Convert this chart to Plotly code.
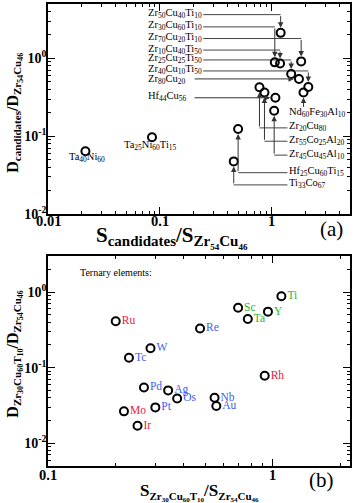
import re
import numpy as np
import plotly.graph_objects as go

# ---------------- Panel (a) data ----------------
a_alloys = ["Ta40Ni60", "Ta25Ni60Ti15", "Ti33Co67", "Hf25Cu60Ti15", "Zr20Cu80",
            "Zr55Co25Al20", "Hf44Cu56", "Zr45Cu45Al10", "Zr30Cu60Ti10", "Zr10Cu40Ti50",
            "Zr50Cu40Ti10", "Zr70Cu20Ti10", "Zr25Cu25Ti50", "Zr80Cu20", "Zr40Cu10Ti50",
            "Nd60Fe30Al10"]
a_s = [0.0216, 0.085, 0.457, 0.50, 0.776, 0.86, 1.077, 1.05, 1.064, 1.186,
       1.20, 1.83, 1.49, 1.75, 2.12, 1.92]
a_d = [0.064, 0.097, 0.0475, 0.124, 0.426, 0.365, 0.312, 0.213, 0.89, 0.86,
       2.13, 0.915, 0.63, 0.545, 0.43, 0.365]

# ---------------- Panel (b) data ----------------
b_elems = ["Ti", "Sc", "Y", "Ta", "Re", "Ru", "W", "Tc", "Rh", "Pd", "Ag", "Os",
           "Nb", "Au", "Pt", "Mo", "Ir"]
b_s = [1.09, 0.70, 0.95, 0.773, 0.474, 0.20, 0.2855, 0.229, 0.919, 0.267, 0.342,
       0.375, 0.55, 0.56, 0.30, 0.2176, 0.25]
b_d = [0.88, 0.62, 0.55, 0.44, 0.33, 0.41, 0.18, 0.135, 0.078, 0.0546, 0.050,
       0.039, 0.040, 0.031, 0.0298, 0.0264, 0.017]
b_group = ["green", "green", "green", "green", "blue", "red", "blue", "blue", "red",
           "blue", "blue", "blue", "blue", "blue", "blue", "red", "red"]

x_ticks_a = [0.01, 0.1, 1]
x_ticktext_a = ["0.01", "0.1", "1"]
x_ticks_b = [0.1, 1]
x_ticktext_b = ["0.1", "1"]
y_ticks = [0.01, 0.1, 1]
y_ticktext = ["10<sup>-2</sup>", "10<sup>-1</sup>", "10<sup>0</sup>"]

group_colors = {"green": "#2db32d", "blue": "#4060f0", "red": "#e8203c"}
FONT = "Liberation Serif"


def span(txt, px):
    return "<span style='font-size:%spx'>%s</span>" % (px, txt)


def chem(name, sub_px):
    parts = re.findall(r"([A-Za-z]+)(\d+)", name)
    return "".join(el + "<sub>" + span(n, sub_px) + "</sub>" for el, n in parts)


# label layout for panel (a): (kind, label_x, level_y, line_start_x)
LEFT_X = 0.076
a_label_layout = {
    "Zr50Cu40Ti10": ("down", LEFT_X, 3.65, 0.244),
    "Zr30Cu60Ti10": ("down", LEFT_X, 2.54, 0.244),
    "Zr70Cu20Ti10": ("down", LEFT_X, 1.80, 0.244),
    "Zr10Cu40Ti50": ("down", LEFT_X, 1.28, 0.244),
    "Zr25Cu25Ti50": ("down", LEFT_X, 0.955, 0.244),
    "Zr40Cu10Ti50": ("down", LEFT_X, 0.69, 0.244),
    "Zr80Cu20": ("horiz", LEFT_X, 0.52, 0.198),
    "Hf44Cu56": ("horiz", LEFT_X, None, 0.198),
    "Nd60Fe30Al10": ("below", 1.41, 0.198, None),
    "Zr20Cu80": ("up", 1.41, 0.128, 1.38),
    "Zr55Co25Al20": ("up", 1.41, 0.0863, 1.38),
    "Zr45Cu45Al10": ("up", 1.41, 0.0572, 1.38),
    "Hf25Cu60Ti15": ("up", 1.41, 0.034, 1.38),
    "Ti33Co67": ("up", 1.41, 0.0237, 1.38),
    "Ta40Ni60": ("plain", 0.0222, 0.0513, None),
    "Ta25Ni60Ti15": ("plain", 0.083, 0.073, None),
}

fig = go.Figure()

lx, ly = [], []
annotations = []
lab_font = dict(family=FONT, size=10.5, color="black")
arrow_common = dict(text="", showarrow=True, arrowhead=2, arrowsize=1.1,
                    arrowwidth=1, arrowcolor="#333", standoff=5,
                    xref="x", yref="y", axref="x", ayref="y")
lab_common = dict(showarrow=False, yanchor="middle", xref="x", yref="y",
                  font=lab_font, borderpad=0, yshift=1)
for name, s, d in zip(a_alloys, a_s, a_d):
    kind, tx, ty, x0 = a_label_layout[name]
    label = chem(name, 7.5)
    if kind in ("down", "up"):
        lx += [x0, s, None]
        ly += [ty, ty, None]
        annotations.append(dict(x=np.log10(s), y=np.log10(d), ax=np.log10(s),
                                ay=np.log10(ty), **arrow_common))
        annotations.append(dict(x=np.log10(tx), y=np.log10(ty), text=label,
                                xanchor="left", **lab_common))
    elif kind == "horiz":
        ly_lab = ty if ty is not None else d
        annotations.append(dict(x=np.log10(s), y=np.log10(d), ax=np.log10(x0),
                                ay=np.log10(d), **arrow_common))
        annotations.append(dict(x=np.log10(tx), y=np.log10(ly_lab), text=label,
                                xanchor="left", **lab_common))
    elif kind == "below":
        annotations.append(dict(x=np.log10(s), y=np.log10(d), ax=np.log10(s),
                                ay=np.log10(ty * 1.15), **arrow_common))
        annotations.append(dict(x=np.log10(tx), y=np.log10(ty), text=label,
                                xanchor="left", **lab_common))
    else:
        annotations.append(dict(x=np.log10(tx), y=np.log10(ty), text=label,
                                xanchor="center", **lab_common))

fig.add_trace(go.Scatter(x=lx, y=ly, mode="lines", xaxis="x", yaxis="y",
                         line=dict(color="#444", width=1), hoverinfo="skip",
                         showlegend=False))

fig.add_trace(go.Scatter(x=a_s, y=a_d, mode="markers", xaxis="x", yaxis="y",
                         marker=dict(symbol="circle-open", size=8, color="black",
                                     line=dict(width=2, color="black")),
                         showlegend=False))

# panel (b)
fig.add_trace(go.Scatter(x=b_s, y=b_d, mode="markers+text", xaxis="x2", yaxis="y2",
                         text=b_elems, textposition="middle right",
                         textfont=dict(family=FONT, size=11.5,
                                       color=[group_colors[g] for g in b_group]),
                         marker=dict(symbol="circle-open", size=8, color="black",
                                     line=dict(width=2, color="black")),
                         showlegend=False))


def minor_vals(lo, hi):
    return [m * 10.0 ** e for e in range(lo, hi) for m in range(2, 10)]


def axis(rng, tv, tt, domain, anchor, mvals, fsize, show_labels):
    return dict(type="log", range=rng, domain=domain, anchor=anchor,
                showline=True, linecolor="black", linewidth=1.5, mirror="allticks",
                ticks="inside", ticklen=7, tickwidth=1.2, tickcolor="black",
                tickmode="array", tickvals=tv, ticktext=tt,
                showticklabels=show_labels,
                showgrid=False, zeroline=False, ticklabelstandoff=-3,
                tickfont=dict(family=FONT, size=fsize, color="black", weight="bold"),
                minor=dict(ticks="inside", ticklen=3.5, tickwidth=1, tickcolor="black",
                           tickmode="array", tickvals=mvals, showgrid=False))


fig.update_layout(
    width=354, height=503,
    margin=dict(l=48, r=4, t=2, b=37),
    plot_bgcolor="white", paper_bgcolor="white",
    xaxis=axis([-2, np.log10(5)], x_ticks_a, x_ticktext_a, [0, 1], "y",
               minor_vals(-2, 1), 15, False),
    yaxis=axis([-2, np.log10(5)], y_ticks, y_ticktext, [0.5453, 1], "x",
               minor_vals(-2, 1), 14, True),
    xaxis2=axis([-1, np.log10(2.2)], x_ticks_b, x_ticktext_b, [0, 1], "y2",
                minor_vals(-1, 1), 15, False),
    yaxis2=axis([np.log10(0.005), np.log10(3)], y_ticks, y_ticktext, [0, 0.4547], "x2",
                minor_vals(-3, 1), 14, True),
)

# x tick labels drawn as annotations (placed right under the axis, as in the reference)
tick_font = dict(family=FONT, size=14.5, color="black", weight="bold")
for v, t in zip(x_ticks_a, x_ticktext_a):
    annotations.append(dict(x=np.log10(v), y=0.530, xref="x", yref="paper", text=t,
                            showarrow=False, xanchor="center", yanchor="middle",
                            font=tick_font))
for v, t in zip(x_ticks_b, x_ticktext_b):
    annotations.append(dict(x=np.log10(v), y=-0.0194, xref="x2", yref="paper", text=t,
                            showarrow=False, xanchor="center", yanchor="middle",
                            font=tick_font))


def ztitle(letter, sub_px, subsub_px):
    return (letter + "<sub>" + span("Zr<sub>" + span("54", subsub_px) + "</sub>Cu<sub>"
                                   + span("46", subsub_px) + "</sub>", sub_px) + "</sub>")


def ttitle(letter, sub_px, subsub_px):
    inner = ("Zr<sub>" + span("30", subsub_px) + "</sub>Cu<sub>" + span("60", subsub_px)
             + "</sub>T<sub>" + span("10", subsub_px) + "</sub>")
    return letter + "<sub>" + span(inner, sub_px) + "</sub>"


xa_title = "S<sub>" + span("candidates", 15) + "</sub>/" + ztitle("S", 15, 9)
ya_title = "D<sub>" + span("candidates", 11) + "</sub>/" + ztitle("D", 11, 8)
xb_title = ttitle("S", 11, 7) + "/" + ztitle("S", 11, 7)
yb_title = ttitle("D", 11, 8) + "/" + ztitle("D", 11, 8)

annotations += [
    dict(text=xa_title, x=0.41, y=0.495, xref="paper", yref="paper", showarrow=False,
         xanchor="center", yanchor="middle",
         font=dict(family=FONT, size=21, color="black", weight="bold")),
    dict(text=ya_title, x=-0.112, y=0.765, xref="paper", yref="paper", showarrow=False,
         textangle=-90, xanchor="center", yanchor="middle",
         font=dict(family=FONT, size=16, color="black", weight="bold")),
    dict(text=xb_title, x=0.503, y=-0.058, xref="paper", yref="paper", showarrow=False,
         xanchor="center", yanchor="middle",
         font=dict(family=FONT, size=17, color="black", weight="bold")),
    dict(text=yb_title, x=-0.112, y=0.2435, xref="paper", yref="paper", showarrow=False,
         textangle=-90, xanchor="center", yanchor="middle",
         font=dict(family=FONT, size=16, color="black", weight="bold")),
    dict(text="(a)", x=0.94, y=0.513, xref="paper", yref="paper", showarrow=False,
         xanchor="center", yanchor="middle",
         font=dict(family=FONT, size=21, color="black")),
    dict(text="(b)", x=0.907, y=-0.030, xref="paper", yref="paper", showarrow=False,
         xanchor="center", yanchor="middle",
         font=dict(family=FONT, size=21, color="black")),
    dict(text="Ternary elements:", x=0.0993, y=0.4187, xref="paper", yref="paper",
         showarrow=False, xanchor="left", yanchor="middle",
         font=dict(family=FONT, size=10, color="black")),
]
fig.update_layout(annotations=annotations)

fig.write_html("out.html")
